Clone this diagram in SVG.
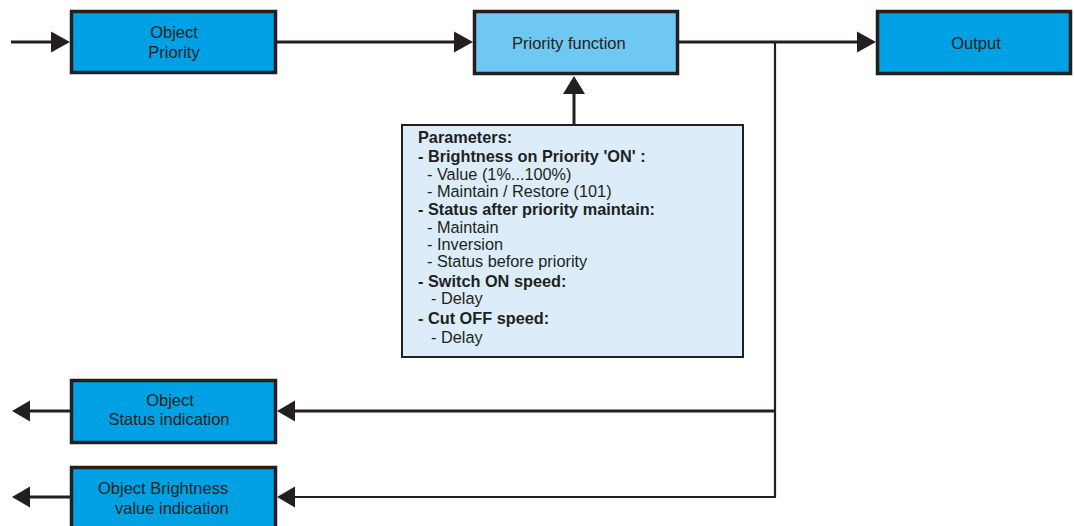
<svg xmlns="http://www.w3.org/2000/svg" width="1074" height="526" viewBox="0 0 1074 526">
<defs>
<style>
.box{stroke:#231f20;stroke-width:3.5}
.dark{fill:#00a1e4}
.light{fill:#6ec8f1}
.param{fill:#dcedf9;stroke:#231f20;stroke-width:2}
.lbl{font-family:"Liberation Sans",Arial,sans-serif;font-size:16.5px;fill:#231f20}
.ptxt{font-family:"Liberation Sans",Arial,sans-serif;font-size:16.3px;fill:#231f20}
.b{font-weight:bold}
.ln{fill:none;stroke:#231f20;stroke-width:3}
.ln2{fill:none;stroke:#231f20;stroke-width:2.2}
.ah{fill:#231f20}
</style>
</defs>
<rect width="1074" height="526" fill="#ffffff"/>
<g id="connectors">
<line class="ln" x1="11" y1="42" x2="54" y2="42"/>
<polygon class="ah" points="70,42 51,31.5 51,52.5"/>
<line class="ln" x1="276" y1="42" x2="457" y2="42"/>
<polygon class="ah" points="473,42 454,31.5 454,52.5"/>
<line class="ln" x1="679" y1="42" x2="860" y2="42"/>
<polygon class="ah" points="876,42 857,31.5 857,52.5"/>
<line class="ln" x1="574" y1="125" x2="574" y2="90"/>
<polygon class="ah" points="574,76 563,94 585,94"/>
<polyline class="ln2" points="775,42 775,497"/>
<line class="ln" x1="776" y1="411" x2="292" y2="411"/>
<polygon class="ah" points="277,411 295,400.5 295,421.5"/>
<line class="ln2" x1="776" y1="497" x2="292" y2="497"/>
<polygon class="ah" points="277,497 295,486.5 295,507.5"/>
<line class="ln" x1="70" y1="411" x2="26" y2="411"/>
<polygon class="ah" points="12,411 30,400.5 30,421.5"/>
<line class="ln" x1="70" y1="497" x2="26" y2="497"/>
<polygon class="ah" points="12,497 30,486.5 30,507.5"/>
</g>
<g id="object-priority">
<rect class="box dark" x="71.5" y="11.5" width="204" height="61"/>
<text class="lbl" x="174" y="38" text-anchor="middle">Object</text>
<text class="lbl" x="174" y="58" text-anchor="middle">Priority</text>
</g>
<g id="priority-function">
<rect class="box light" x="474.5" y="11.5" width="203" height="62"/>
<text class="lbl" x="512" y="49">Priority function</text>
</g>
<g id="output">
<rect class="box dark" x="877.5" y="11.5" width="193" height="62"/>
<text class="lbl" x="976" y="49" text-anchor="middle">Output</text>
</g>
<g id="parameters">
<rect class="param" x="402" y="125" width="341" height="232"/>
<text class="ptxt b" x="418" y="143">Parameters:</text>
<text class="ptxt b" x="418" y="162">- Brightness on Priority 'ON' :</text>
<text class="ptxt" x="427" y="180">- Value (1%...100%)</text>
<text class="ptxt" x="427" y="197">- Maintain / Restore (101)</text>
<text class="ptxt b" x="418" y="215">- Status after priority maintain:</text>
<text class="ptxt" x="427" y="233">- Maintain</text>
<text class="ptxt" x="427" y="250">- Inversion</text>
<text class="ptxt" x="427" y="267">- Status before priority</text>
<text class="ptxt b" x="418" y="287">- Switch ON speed:</text>
<text class="ptxt" x="431" y="304">- Delay</text>
<text class="ptxt b" x="418" y="324">- Cut OFF speed:</text>
<text class="ptxt" x="431" y="343">- Delay</text>
</g>
<g id="status-indication">
<rect class="box dark" x="71.5" y="380.5" width="204" height="62"/>
<text class="lbl" x="170" y="406" text-anchor="middle">Object</text>
<text class="lbl" x="169" y="425" text-anchor="middle">Status indication</text>
</g>
<g id="brightness-indication">
<rect class="box dark" x="71.5" y="467.5" width="204" height="70"/>
<text class="lbl" x="98" y="494">Object Brightness</text>
<text class="lbl" x="115" y="514">value indication</text>
</g>
</svg>
